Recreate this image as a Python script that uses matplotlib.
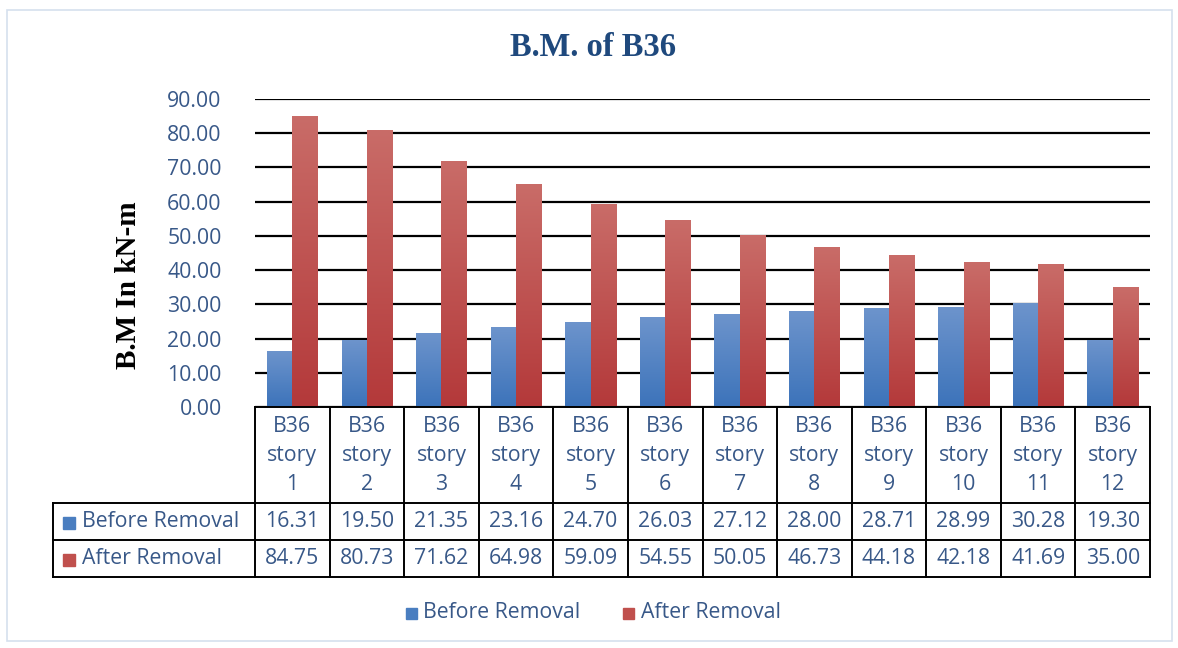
import numpy as np
import matplotlib.pyplot as plt
from matplotlib.colors import LinearSegmentedColormap
from matplotlib.patches import Rectangle

categories = ['B36\nstory\n1', 'B36\nstory\n2', 'B36\nstory\n3', 'B36\nstory\n4',
              'B36\nstory\n5', 'B36\nstory\n6', 'B36\nstory\n7', 'B36\nstory\n8',
              'B36\nstory\n9', 'B36\nstory\n10', 'B36\nstory\n11', 'B36\nstory\n12']
before = [16.31, 19.50, 21.35, 23.16, 24.70, 26.03, 27.12, 28.00, 28.71, 28.99, 30.28, 19.30]
after = [84.75, 80.73, 71.62, 64.98, 59.09, 54.55, 50.05, 46.73, 44.18, 42.18, 41.69, 35.00]
series_names = ['Before Removal', 'After Removal']

W, H = 1178, 648
TXT = '#385888'
FS = 15.3
SANS = ['Open Sans', 'DejaVu Sans']
SERIF = ['Liberation Serif', 'DejaVu Serif']
blue_map = LinearSegmentedColormap.from_list('b', ['#3C73BA', '#6D94CC'])
red_map = LinearSegmentedColormap.from_list('r', ['#B4393A', '#C96C68'])
solid = ['#4A7EC0', '#C0504D']

fig = plt.figure(figsize=(W / 100, H / 100), dpi=100)

# plot area in pixels
px0, px1, py0, py1 = 255, 1150, 407, 99
ax = fig.add_axes([px0 / W, 1 - py0 / H, (px1 - px0) / W, (py0 - py1) / H])
n = len(categories)
grad = np.linspace(0, 1, 256).reshape(-1, 1)
bw = 0.34
for i in range(n):
    for val, x0, cm in [(before[i], i + 0.5 - bw, blue_map), (after[i], i + 0.5, red_map)]:
        ax.imshow(grad, extent=[x0, x0 + bw, 0, val], origin='lower', aspect='auto',
                  cmap=cm, zorder=3, interpolation='bilinear')
ax.set_xlim(0, n)
ax.set_ylim(0, 90)
ax.set_yticks(np.arange(0, 91, 10))
ax.set_yticklabels([f'{v:.2f}' for v in np.arange(0, 91, 10)], family=SANS, fontsize=FS, color=TXT)
ax.tick_params(axis='y', length=0, pad=24)
ax.set_xticks([])
for s in ax.spines.values():
    s.set_visible(False)
ax.grid(axis='y', color='black', linewidth=1.6, zorder=1)
ax.set_axisbelow(True)

# overlay in pixel coordinates for title, table, legend
ov = fig.add_axes([0, 0, 1, 1], zorder=5)
ov.set_xlim(0, W)
ov.set_ylim(H, 0)
ov.axis('off')
ov.patch.set_alpha(0)

ov.add_patch(Rectangle((7, 10), 1165, 631, fill=False, edgecolor='#D5E0EE', linewidth=1.2))
ov.text(593, 48, 'B.M. of B36', family=SERIF, fontweight='bold', fontsize=23.5,
        color='#1F497D', ha='center', va='center')
ov.text(128, 285, 'B.M In kN-m', family=SERIF, fontweight='bold', fontsize=21,
        color='black', ha='center', va='center', rotation=90)

cw = (px1 - px0) / n
lx = 53
r0, r1, r2, r3 = 407, 503, 540, 577
lw = 1.4
# horizontal lines
ov.plot([px0, px1], [r0, r0], color='black', lw=lw)
for yy in (r1, r2, r3):
    ov.plot([lx, px1], [yy, yy], color='black', lw=lw)
# vertical lines
ov.plot([lx, lx], [r1, r3], color='black', lw=lw)
for i in range(n + 1):
    xx = px0 + i * cw
    ov.plot([xx, xx], [r0, r3], color='black', lw=lw)
for i, cat in enumerate(categories):
    xc = px0 + (i + 0.5) * cw
    ov.text(xc, (r0 + r1) / 2 + 1, cat, family=SANS, fontsize=FS, color=TXT,
            ha='center', va='center', linespacing=1.5)
    ov.text(xc, (r1 + r2) / 2, f'{before[i]:.2f}', family=SANS, fontsize=FS, color=TXT,
            ha='center', va='center')
    ov.text(xc, (r2 + r3) / 2, f'{after[i]:.2f}', family=SANS, fontsize=FS, color=TXT,
            ha='center', va='center')
for j, yy in enumerate([(r1 + r2) / 2, (r2 + r3) / 2]):
    ov.add_patch(Rectangle((63, yy - 5), 12, 12, color=solid[j]))
    ov.text(82, yy, series_names[j], family=SANS, fontsize=FS, color=TXT, ha='left', va='center')

# bottom legend
for j, (xs, xt) in enumerate([(406, 423), (623, 641)]):
    ov.add_patch(Rectangle((xs, 608), 11, 11, color=solid[j]))
    ov.text(xt, 613, series_names[j], family=SANS, fontsize=FS, color=TXT, ha='left', va='center')

fig.savefig('out.png', dpi=100)
